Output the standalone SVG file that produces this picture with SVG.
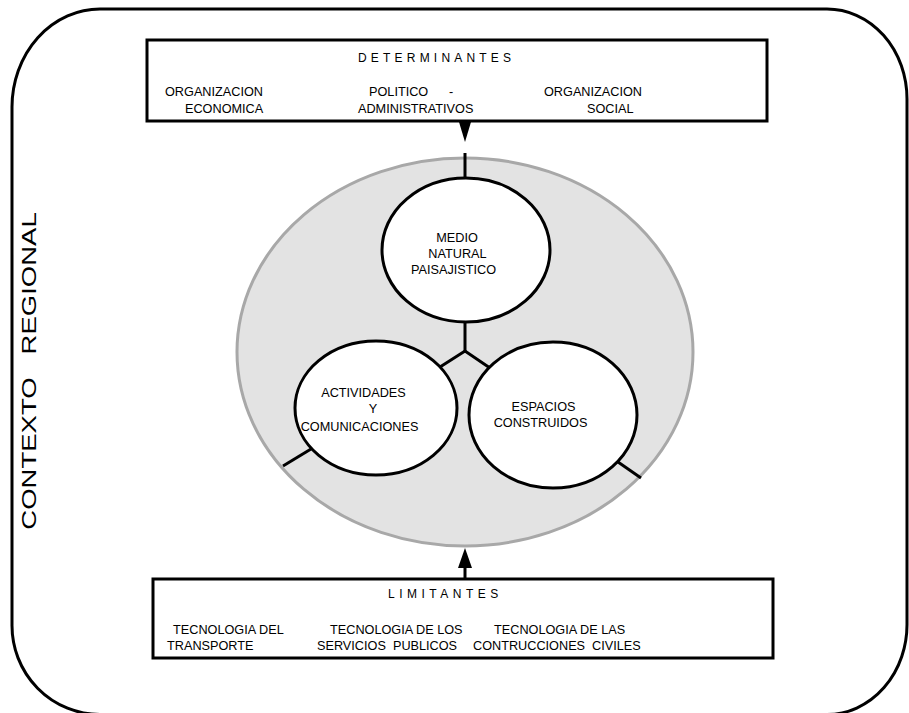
<svg xmlns="http://www.w3.org/2000/svg" width="909" height="713" viewBox="0 0 909 713">
<style>
text{font-family:"Liberation Sans",Arial,sans-serif;font-size:12.7px;fill:#000;white-space:pre}
.box{fill:#fff;stroke:#000;stroke-width:3}
.node{fill:#fff;stroke:#000;stroke-width:3}
.ln{stroke:#000;stroke-width:3;fill:none}
.head{fill:#000;stroke:none}
.title{font-size:12px;letter-spacing:4.2px}
.mid{text-anchor:middle}
</style>
<rect width="909" height="713" fill="#fff"/>
<g id="contexto-regional">
<path d="M12,107 A88,98 0 0 1 100,9 H827 A80,90 0 0 1 907,99 V623 A80,90 0 0 1 827,714.5 H100 A88,89 0 0 1 12,625 Z" fill="none" stroke="#000" stroke-width="3"/>
<text transform="translate(36,371) rotate(-90) scale(1.31,1)" class="mid" style="font-size:21px">CONTEXTO   REGIONAL</text>
</g>
<g id="region">
<ellipse cx="465" cy="352" rx="228" ry="194" fill="#e3e3e3" stroke="#a8a8a8" stroke-width="3"/>
</g>
<g id="connectors">
<polygon class="head" points="459,122 471,122 465,142"/>
<line class="ln" x1="465" y1="153" x2="465" y2="179"/>
<polyline class="ln" points="440,367 465,351 490,368"/>
<line class="ln" x1="465" y1="322" x2="465" y2="351"/>
<line class="ln" x1="283" y1="466" x2="311" y2="449"/>
<line class="ln" x1="618" y1="462" x2="641" y2="478"/>
<line class="ln" x1="465" y1="566" x2="465" y2="579"/>
<polygon class="head" points="458,568 472,568 465,548"/>
</g>
<g id="determinantes">
<rect class="box" x="147" y="40" width="620" height="81"/>
<text class="title" x="358" y="61.5">DETERMINANTES</text>
<text x="165" y="95.5">ORGANIZACION</text>
<text x="185" y="112.5">ECONOMICA</text>
<text x="369" y="95.5">POLITICO</text>
<text x="449" y="95.5">-</text>
<text x="358" y="112.5">ADMINISTRATIVOS</text>
<text x="544" y="95.5">ORGANIZACION</text>
<text x="587" y="112.5">SOCIAL</text>
</g>
<g id="medio-natural">
<ellipse class="node" cx="466" cy="250" rx="84" ry="72"/>
<text class="mid" x="457" y="241.5">MEDIO</text>
<text class="mid" x="457.5" y="257.5">NATURAL</text>
<text class="mid" x="453.5" y="273.5">PAISAJISTICO</text>
</g>
<g id="actividades">
<ellipse class="node" cx="376" cy="408" rx="81" ry="67"/>
<text class="mid" x="363.5" y="396.5">ACTIVIDADES</text>
<text class="mid" x="373" y="412.5">Y</text>
<text class="mid" x="359.5" y="430.5">COMUNICACIONES</text>
</g>
<g id="espacios">
<ellipse class="node" cx="553" cy="415" rx="84" ry="73"/>
<text class="mid" x="543.5" y="410.5">ESPACIOS</text>
<text class="mid" x="540.5" y="426.5">CONSTRUIDOS</text>
</g>
<g id="limitantes">
<rect class="box" x="153" y="579" width="620" height="79"/>
<text class="title" x="388" y="597.5" style="letter-spacing:4.5px">LIMITANTES</text>
<text x="173" y="633.5">TECNOLOGIA DEL</text>
<text x="167" y="649.5">TRANSPORTE</text>
<text x="330" y="633.5">TECNOLOGIA DE LOS</text>
<text x="317" y="649.5">SERVICIOS  PUBLICOS</text>
<text x="494" y="633.5">TECNOLOGIA DE LAS</text>
<text x="473" y="649.5">CONTRUCCIONES  CIVILES</text>
</g>
</svg>
